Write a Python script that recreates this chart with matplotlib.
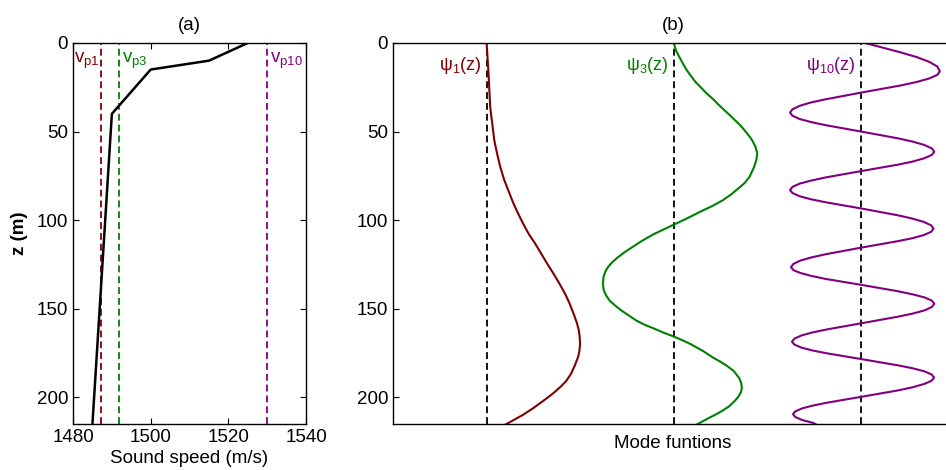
import matplotlib.pyplot as plt

plt.rcParams['font.family'] = ['Liberation Sans', 'DejaVu Sans']
plt.rcParams['mathtext.fontset'] = 'custom'
plt.rcParams['mathtext.rm'] = 'Liberation Sans'

# (a) sound speed profile
depth = [0, 10, 15, 40, 215]
speed = [1525, 1515, 1500, 1490, 1485]
phase_speed = [1487.2, 1491.8, 1530.0]
phase_labels = ['v$_\\mathregular{p1}$', 'v$_\\mathregular{p3}$', 'v$_\\mathregular{p10}$']

# (b) mode functions (z in m, amplitude in arbitrary units)
z1 = [0, 17, 36, 55, 62, 70, 77, 83, 90, 96, 102, 108, 113, 119, 125, 130,
      136, 142, 147, 153, 158, 162, 166, 170, 174, 177, 182, 187, 191, 194,
      198, 202, 206, 210, 216]
psi1 = [0.0, 0.01, 0.019, 0.041, 0.055, 0.073, 0.093, 0.115, 0.141, 0.167,
        0.195, 0.226, 0.258, 0.292, 0.326, 0.356, 0.39, 0.421, 0.443, 0.465,
        0.482, 0.492, 0.497, 0.499, 0.495, 0.489, 0.471, 0.449, 0.423, 0.395,
        0.352, 0.302, 0.25, 0.192, 0.09]

z3 = [0, 4, 7.6, 11, 15, 18.5, 22, 25, 28.3, 31.5, 35, 38, 40.6, 43.5, 46,
      48.5, 51, 53, 55, 58.5, 62.3, 66, 70, 75.5, 79, 82, 85.5, 88.7, 92, 95,
      99, 102.5, 105, 108, 111.5, 115, 118, 121, 124, 126.5, 129, 132, 136,
      139.5, 142.5, 145.4, 148, 151, 154, 156.7, 159, 161, 163.5, 165.7, 168,
      170, 174, 177.5, 180, 182, 185, 187, 189, 191.5, 194.4, 197, 199.5, 202,
      205, 207.5, 209.5, 212, 214, 216]
psi3 = [0.0, 0.01, 0.027, 0.045, 0.066, 0.09, 0.115, 0.143, 0.173, 0.207,
        0.24, 0.27, 0.297, 0.325, 0.35, 0.371, 0.39, 0.405, 0.418, 0.435,
        0.445, 0.44, 0.428, 0.404, 0.378, 0.345, 0.305, 0.262, 0.205, 0.145,
        0.07, 0.0, -0.05, -0.11, -0.168, -0.219, -0.262, -0.3, -0.332, -0.352,
        -0.366, -0.376, -0.379, -0.375, -0.362, -0.343, -0.316, -0.28, -0.238,
        -0.2, -0.157, -0.11, -0.055, 0.0, 0.05, 0.09, 0.158, 0.208, 0.25, 0.28,
        0.318, 0.333, 0.348, 0.358, 0.363, 0.358, 0.345, 0.325, 0.295, 0.26,
        0.226, 0.18, 0.145, 0.11]

z10 = [0, 5.3, 8, 10.7, 13.3, 16, 18, 20, 22, 24, 28,
       31.8, 33.6, 35.5, 37.4, 39.3, 41.1, 42.9, 44.6, 46.4, 50,
       53.8, 55.7, 57.6, 59.5, 61.4, 63.2, 65, 66.9, 68.7, 72.3,
       75.9, 77.7, 79.4, 81.2, 83, 84.7, 86.5, 88.2, 89.9, 93.4,
       97.2, 99.1, 101, 102.9, 104.8, 106.6, 108.4, 110.2, 111.9, 115.5,
       119.2, 121, 122.8, 124.7, 126.5, 128.2, 129.8, 131.5, 133.2, 136.5,
       140.1, 141.9, 143.6, 145.4, 147.2, 149, 150.9, 152.7, 154.5, 158.2,
       161.7, 163.4, 165.1, 166.9, 168.6, 170.2, 171.9, 173.5, 175.1, 178.4,
       181.9, 183.6, 185.3, 187.1, 188.8, 190.6, 192.4, 194.3, 196.1, 199.7,
       203, 204.6, 206.2, 207.9, 209.5, 211.1, 212.8, 214.4, 215.6]
psi10 = [0.02, 0.21, 0.297, 0.364, 0.406, 0.42, 0.406, 0.364, 0.297, 0.21, 0.0,
         -0.19, -0.269, -0.329, -0.367, -0.38, -0.367, -0.329, -0.269, -0.19, 0.0,
         0.195, 0.276, 0.338, 0.377, 0.39, 0.377, 0.338, 0.276, 0.195, 0.0,
         -0.19, -0.269, -0.329, -0.367, -0.38, -0.367, -0.329, -0.269, -0.19, 0.0,
         0.193, 0.273, 0.334, 0.373, 0.386, 0.373, 0.334, 0.273, 0.193, 0.0,
         -0.188, -0.265, -0.325, -0.362, -0.375, -0.362, -0.325, -0.265, -0.188, 0.0,
         0.195, 0.276, 0.338, 0.377, 0.39, 0.377, 0.338, 0.276, 0.195, 0.0,
         -0.185, -0.262, -0.32, -0.357, -0.37, -0.357, -0.32, -0.262, -0.185, 0.0,
         0.195, 0.275, 0.337, 0.376, 0.389, 0.376, 0.337, 0.275, 0.195, 0.0,
         -0.182, -0.257, -0.315, -0.352, -0.364, -0.352, -0.315, -0.257, -0.236]

mode_base = [1, 2, 3]
mode_labels = ['ψ$_1$(z)', 'ψ$_3$(z)', 'ψ$_{10}$(z)']
colors = ['#800000', '#008000', '#800080']

zmax = 215
fs = 13.5
dash = (0, (3.8, 2.2))

fig = plt.figure(figsize=(9.46, 4.70), dpi=100)
ax1 = fig.add_axes([0.0772, 0.098, 0.2463, 0.8106])
ax2 = fig.add_axes([0.4154, 0.098, 0.592, 0.8106])

# Step 1: panel (a)
for v, c in zip(phase_speed, colors):
    ax1.axvline(v, color=c, linestyle=dash, linewidth=1.3)
ax1.plot(speed, depth, color='black', linewidth=1.8)
ax1.text(phase_speed[0] - 0.3, 11, phase_labels[0], color=colors[0],
         ha='right', va='baseline', fontsize=fs)
ax1.text(phase_speed[1] + 0.8, 11, phase_labels[1], color=colors[1],
         ha='left', va='baseline', fontsize=fs)
ax1.text(phase_speed[2] + 0.8, 11, phase_labels[2], color=colors[2],
         ha='left', va='baseline', fontsize=fs)
ax1.set_xlim(1480, 1540)
ax1.set_ylim(zmax, 0)
ax1.set_xticks([1480, 1500, 1520, 1540])
ax1.set_yticks([0, 50, 100, 150, 200])
ax1.tick_params(direction='in', top=True, right=True, length=4, labelsize=fs)
ax1.set_xlabel('Sound speed (m/s)', fontsize=fs, labelpad=3)
ax1.set_ylabel('z (m)', fontsize=fs, fontweight='bold', labelpad=6)
ax1.set_title('(a)', fontsize=fs, pad=9)

# Step 2: panel (b)
for b, z, p, lab, c in zip(mode_base, [z1, z3, z10], [psi1, psi3, psi10],
                           mode_labels, colors):
    ax2.axvline(b, color='black', linestyle=dash, linewidth=1.3)
    ax2.plot([b + v for v in p], z, color=c, linewidth=1.5)
    ax2.text(b - 0.03, 15, lab, color=c, ha='right', va='baseline', fontsize=fs - 0.5)
ax2.set_xlim(0.5, 3.49)
ax2.set_ylim(zmax, 0)
ax2.set_xticks([])
ax2.set_yticks([0, 50, 100, 150, 200])
ax2.tick_params(direction='in', length=4, labelsize=fs)
ax2.set_xlabel('Mode funtions', fontsize=fs, labelpad=8)
ax2.set_title('(b)', fontsize=fs, pad=9)

for ax in (ax1, ax2):
    for s in ax.spines.values():
        s.set_linewidth(1.0)

fig.savefig('out.png', dpi=100)
